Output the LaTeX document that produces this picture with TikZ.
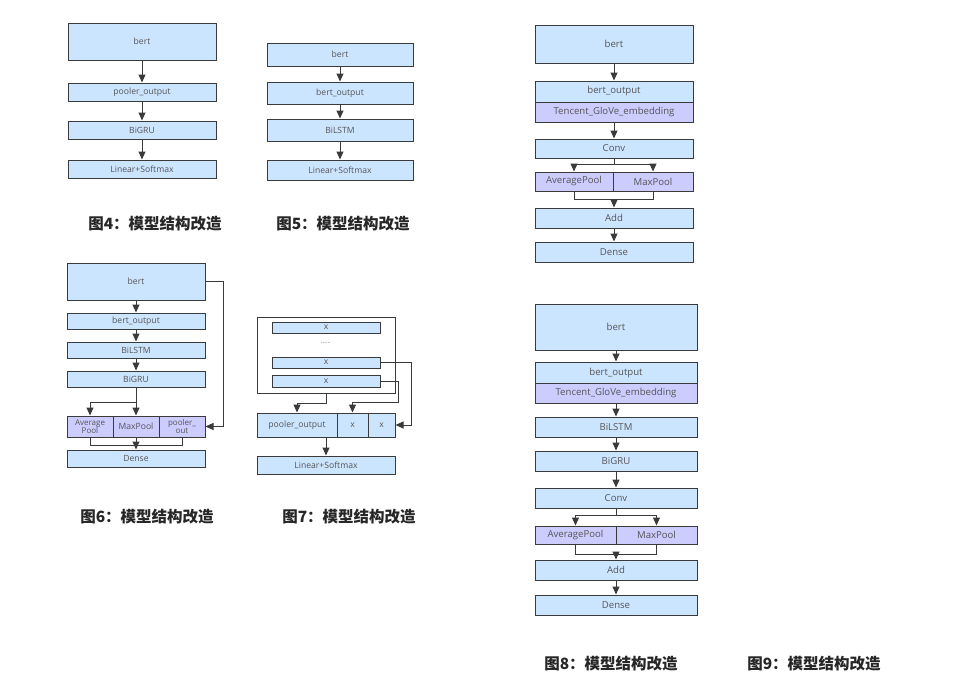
\documentclass[tikz,border=0pt]{standalone}
\usepackage{fontspec}
\setmainfont{Open Sans}
\newfontfamily\cjk{Noto Sans CJK SC}
\usetikzlibrary{arrows.meta}
\definecolor{bfill}{HTML}{CCE5FF}
\definecolor{pfill}{HTML}{CCCCFF}
\definecolor{lcol}{HTML}{3A3A3A}
\definecolor{tcol}{HTML}{555555}
\tikzset{
 box/.style={draw=lcol, fill=bfill, line width=1pt, inner sep=0pt, text=tcol, font=\fontsize{8.6}{9}\selectfont},
 pbox/.style={box, fill=pfill},
 bigbox/.style={box, font=\fontsize{9.6}{10}\selectfont},
 bigpbox/.style={bigbox, fill=pfill},
 outerbox/.style={draw=lcol, fill=white, line width=1pt, inner sep=0pt},
 arr/.style={draw=lcol, line width=1pt, -{Triangle[width=7pt,length=8pt]}},
 ln/.style={draw=lcol, line width=1pt},
 capt/.style={font=\cjk\bfseries\fontsize{15.5}{17}\selectfont, text=black!85, inner sep=0pt},
}
\newcommand{\bx}[7]{\node[#1, minimum width={(#5-#3)*1pt}, minimum height={(#6-#4)*1pt}] (#2) at ({(#3+#5)/2},{(#4+#6)/2}) {#7};}
\begin{document}
\begin{tikzpicture}[x=1pt,y=-1pt]
\fill[white] (0,0) rectangle (956,683);
\useasboundingbox (0,0) rectangle (956,683);

% ---------- Fig 4
\bx{box}{f4a}{68}{23}{216}{60}{bert}
\bx{box}{f4b}{68}{83}{216}{101}{pooler\_output}
\bx{box}{f4c}{68}{121}{216}{139}{BiGRU}
\bx{box}{f4d}{68}{160}{216}{178}{Linear+Softmax}
\draw[arr] (f4a) -- (f4b);
\draw[arr] (f4b) -- (f4c);
\draw[arr] (f4c) -- (f4d);
\node[capt] (c4) at (155,224) {图4：模型结构改造};

% ---------- Fig 5
\bx{box}{f5a}{267}{43}{413}{66}{bert}
\bx{box}{f5b}{267}{82}{413}{104}{bert\_output}
\bx{box}{f5c}{267}{119}{413}{141}{BiLSTM}
\bx{box}{f5d}{267}{160}{413}{180}{Linear+Softmax}
\draw[arr] (f5a) -- (f5b);
\draw[arr] (f5b) -- (f5c);
\draw[arr] (f5c) -- (f5d);
\node[capt] (c5) at (343,224) {图5：模型结构改造};

% ---------- Fig 6
\bx{box}{f6a}{67}{263}{205}{300}{bert}
\bx{box}{f6b}{67}{313}{205}{329}{bert\_output}
\bx{box}{f6c}{67}{342}{205}{358}{BiLSTM}
\bx{box}{f6d}{67}{371}{205}{387}{BiGRU}
\bx{pbox,align=center,font=\fontsize{8}{8.5}\selectfont}{f6e}{67}{416}{113}{437}{Average\\Pool}
\bx{pbox}{f6f}{113}{416}{159}{437}{MaxPool}
\bx{pbox,align=center,font=\fontsize{8}{8.5}\selectfont}{f6g}{159}{416}{205}{437}{pooler\_\\out}
\bx{box}{f6h}{67}{450}{205}{467}{Dense}
\draw[arr] (f6a) -- (f6b);
\draw[arr] (f6b) -- (f6c);
\draw[arr] (f6c) -- (f6d);
\coordinate (f6s) at (136,402);
\draw[ln] (f6d.south) -- (f6s);
\draw[arr] (f6s) -- (f6f.north);
\draw[arr] (f6s) -| (f6e.north);
\coordinate (f6m) at (136,445);
\draw[ln] (f6e.south) |- (f6m);
\draw[ln] (f6g.south) |- (f6m);
\draw[arr] (f6f.south) -- (f6h.north);
\draw[arr] (f6a.east) -- ++(18,0) |- (f6g.east);
\node[capt] (c6) at (147,517) {图6：模型结构改造};

% ---------- Fig 7
\bx{outerbox}{f7o}{257}{317}{395}{393}{}
\bx{box}{f7x1}{272}{322}{380}{333}{x}
\node[text=tcol, font=\fontsize{6}{7}\selectfont] (f7dots) at (326,343) {......};
\bx{box}{f7x2}{272}{357}{380}{368}{x}
\bx{box}{f7x3}{272}{375}{380}{387}{x}
\bx{box}{f7p}{257}{413}{337}{437}{pooler\_output}
\bx{box}{f7q}{337}{413}{368}{437}{x}
\bx{box}{f7r}{368}{413}{395}{437}{x}
\bx{box}{f7s}{257}{456}{395}{474}{Linear+Softmax}
\draw[arr] (f7o.south) -- ++(0,10) -| (f7p.north);
\coordinate (f7c1) at (398,402);
\draw[arr] (f7x3.east) -| (f7c1) -| (f7q.north);
\draw[arr] (f7x2.east) -- ++(31,0) |- (f7r.east);
\draw[arr] (f7p.south -| f7s.north) -- (f7s.north);
\node[capt] (c7) at (349,517) {图7：模型结构改造};

% ---------- Fig 8
\bx{bigbox}{f8a}{535}{25}{693}{63}{bert}
\bx{bigbox}{f8b}{535}{81}{693}{102}{bert\_output}
\bx{bigpbox}{f8c}{535}{102}{693}{122}{Tencent\_GloVe\_embedding}
\bx{bigbox}{f8d}{535}{139}{693}{158}{Conv}
\bx{bigpbox}{f8e}{535}{172}{613}{191}{AveragePool}
\bx{bigpbox}{f8f}{613}{172}{693}{191}{MaxPool}
\bx{bigbox}{f8g}{535}{208}{693}{228}{Add}
\bx{bigbox}{f8h}{535}{242}{693}{262}{Dense}
\draw[arr] (f8a) -- (f8b);
\draw[arr] (f8c) -- (f8d);
\coordinate (f8s) at (614,164);
\draw[ln] (f8d.south) -- (f8s);
\draw[arr] (f8s) -| (f8e.north);
\draw[arr] (f8s) -| (f8f.north);
\coordinate (f8m) at (614,199);
\draw[ln] (f8e.south) |- (f8m);
\draw[ln] (f8f.south) |- (f8m);
\draw[arr] (f8m) -- (f8g.north);
\draw[arr] (f8g) -- (f8h);
\node[capt] (c8) at (611,664) {图8：模型结构改造};

% ---------- Fig 9
\bx{bigbox}{f9a}{535}{304}{697}{350}{bert}
\bx{bigbox}{f9b}{535}{362}{697}{383}{bert\_output}
\bx{bigpbox}{f9c}{535}{383}{697}{403}{Tencent\_GloVe\_embedding}
\bx{bigbox}{f9d}{535}{417}{697}{437}{BiLSTM}
\bx{bigbox}{f9e}{535}{451}{697}{471}{BiGRU}
\bx{bigbox}{f9f}{535}{488}{697}{508}{Conv}
\bx{bigpbox}{f9g}{535}{526}{616}{544}{AveragePool}
\bx{bigpbox}{f9h}{616}{526}{697}{544}{MaxPool}
\bx{bigbox}{f9i}{535}{560}{697}{580}{Add}
\bx{bigbox}{f9j}{535}{595}{697}{615}{Dense}
\draw[arr] (f9a) -- (f9b);
\draw[arr] (f9c) -- (f9d);
\draw[arr] (f9d) -- (f9e);
\draw[arr] (f9e) -- (f9f);
\coordinate (f9s) at (616,515);
\draw[ln] (f9f.south) -- (f9s);
\draw[arr] (f9s) -| (f9g.north);
\draw[arr] (f9s) -| (f9h.north);
\coordinate (f9m) at (616,554);
\draw[ln] (f9g.south) |- (f9m);
\draw[ln] (f9h.south) |- (f9m);
\draw[arr] (f9m) -- (f9i.north);
\draw[arr] (f9i) -- (f9j);
\node[capt] (c9) at (814,664) {图9：模型结构改造};
\end{tikzpicture}
\end{document}
